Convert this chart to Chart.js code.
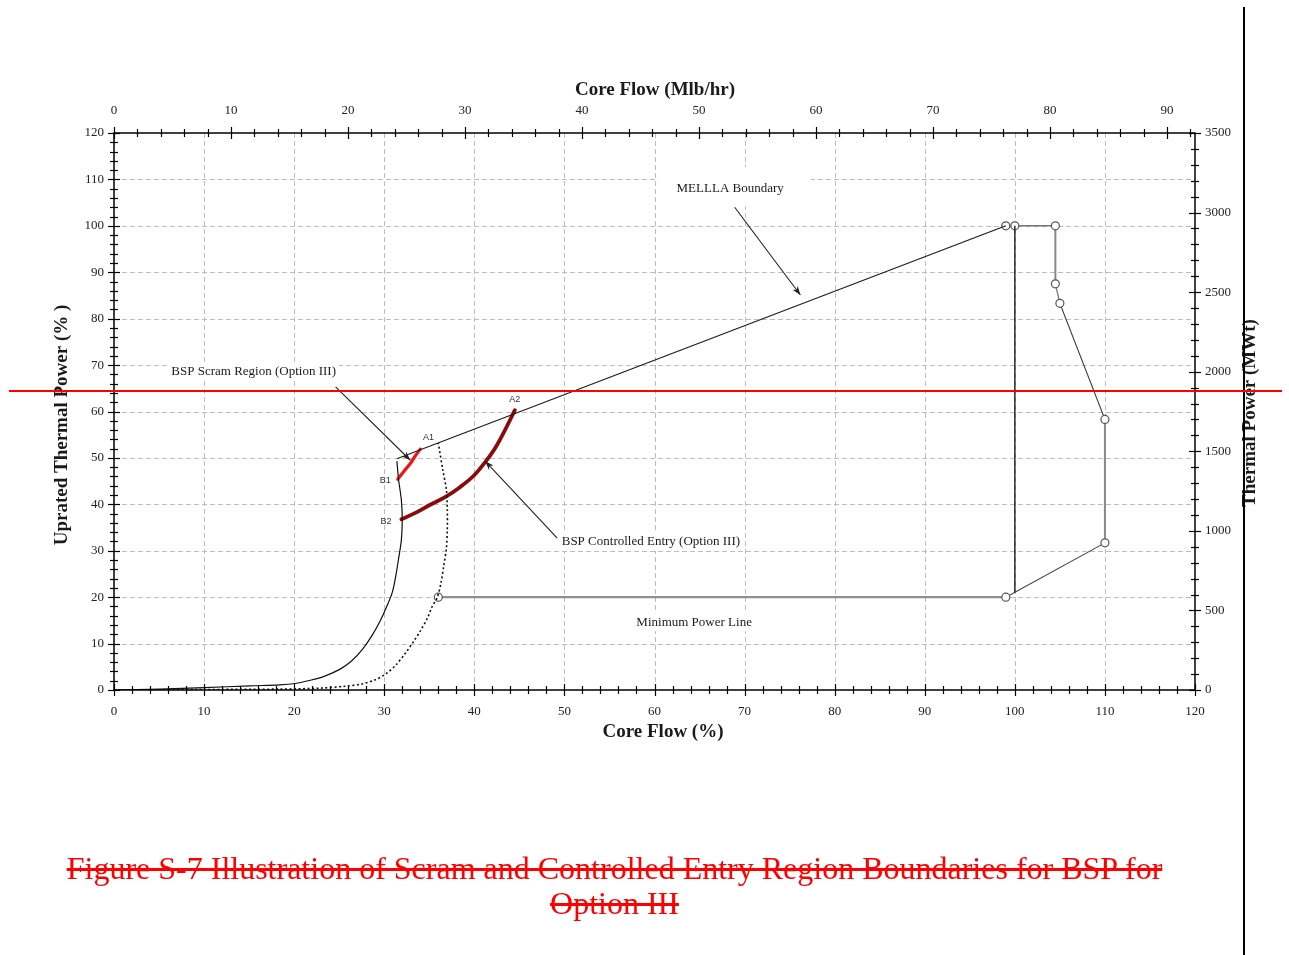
<!DOCTYPE html>
<html>
<head>
<meta charset="utf-8">
<title>BSP Option III Scram and Controlled Entry Regions</title>
<script src="https://cdn.jsdelivr.net/npm/chart.js@4/dist/chart.umd.min.js"></script>
<style>
  html, body { margin: 0; padding: 0; background: #fff; }
  body { width: 1289px; height: 955px; position: relative; overflow: hidden; }
  #plot { position: absolute; left: 0; top: 0; }
  .vrule { position: absolute; left: 1243px; top: 7px; width: 2px; height: 948px; background: #000; }
  .hrule { position: absolute; left: 9px; top: 390px; width: 1273px; height: 2px; background: #f00; }
  .caption {
    position: absolute; left: 0; width: 1229px; height: 36px; line-height: 36px;
    text-align: center; font-family: "Liberation Serif", "Times New Roman", serif;
    font-size: 32px; color: #f00; text-decoration: line-through; white-space: nowrap;
  }
</style>
</head>
<body>
<canvas id="plot" width="1289" height="955"></canvas>
<div class="vrule"></div>
<div class="hrule"></div>
<div class="caption" style="top:850px">Figure S-7 Illustration of Scram and Controlled Entry Region Boundaries for BSP for</div>
<div class="caption" style="top:885px">Option III</div>
<script>
// ---- Curves: core flow (% rated) against uprated thermal power (%) ----
const natCircFlow  = [0, 5.1, 10.0, 15.1, 18.4, 20.1, 21.8, 23.4, 25.1, 26.4, 27.6, 28.6, 29.5, 30.3, 30.9, 31.3, 31.6, 31.9, 32.0, 31.9, 31.6, 31.4];
const natCircPower = [0, 0.2, 0.5, 0.9, 1.1, 1.4, 2.1, 3.0, 4.5, 6.3, 8.8, 11.6, 14.7, 18.1, 21.1, 24.8, 28.4, 32.3, 36.6, 40.9, 45.2, 49.3];

const minPumpFlow  = [0, 9.6, 18.4, 22.9, 25.6, 27.5, 29.0, 30.2, 31.3, 32.3, 33.2, 34.0, 34.8, 35.3, 35.9, 36.3, 36.6, 36.9, 37.0, 37.0, 36.9, 36.5, 36.0];
const minPumpPower = [0, 0.1, 0.2, 0.4, 0.8, 1.3, 2.2, 3.5, 5.4, 7.8, 10.3, 12.7, 15.5, 17.9, 20.0, 23.1, 26.7, 30.6, 34.5, 38.8, 43.1, 47.4, 53.2];

const melllaFlow  = [31.4, 99];
const melllaPower = [49.8, 100];

const boundaryFlow  = [99, 100, 104.5, 104.5, 105, 110, 110, 99, 36];
const boundaryPower = [100, 100, 100, 87.5, 83.3, 58.3, 31.7, 20, 20];

const ratedFlowLineFlow  = [100, 100];
const ratedFlowLinePower = [100, 21];

const scramFlow  = [31.5, 32.3, 32.9, 33.4, 34.0];
const scramPower = [45.4, 47.4, 48.8, 50.3, 51.9];

const entryFlow  = [31.9, 33.4, 35.1, 36.8, 38.4, 39.9, 41.2, 42.3, 43.4, 44.5];
const entryPower = [36.8, 38.1, 39.9, 41.6, 43.7, 46.1, 49.1, 52.1, 56.0, 60.3];

// ---- Axis ticks ----
const coreFlowPctTicks = [0, 10, 20, 30, 40, 50, 60, 70, 80, 90, 100, 110, 120];
const powerPctTicks    = [0, 10, 20, 30, 40, 50, 60, 70, 80, 90, 100, 110, 120];
const coreFlowMlbTicks = [0, 10, 20, 30, 40, 50, 60, 70, 80, 90];
const thermalMWtTicks  = [0, 500, 1000, 1500, 2000, 2500, 3000, 3500];
const coreFlowMlbMax = 92.4;   // 120 % of 77 Mlb/hr rated
const thermalMWtMax = 3500;

// ---- Text annotations (placed in flow % / power % units) ----
const notes = [
  { text: 'MELLLA Boundary', x: 68.4, y: 108.1, align: 'center', box: { l: 18, r: 27, t: 14, b: 11 } },
  { text: 'BSP Scram Region (Option III)', x: 15.5, y: 68.7, align: 'center', box: { l: 3, r: 3, t: 2, b: 2 } },
  { text: 'BSP Controlled Entry (Option III)', x: 49.7, y: 31.9, align: 'left', box: { l: 2, r: 3, t: 2, b: 2 } },
  { text: 'Minimum Power Line', x: 64.4, y: 14.6, align: 'center', box: { l: 3, r: 3, t: 2, b: 2 } }
];
const arrows = [
  { from: [68.9, 104.0], to: [76.2, 85.1] },
  { from: [24.6, 65.3], to: [32.9, 49.5] },
  { from: [49.2, 32.7], to: [41.2, 49.3] }
];
const pointTags = [
  { text: 'A1', x: 34.9, y: 54.3 },
  { text: 'A2', x: 44.5, y: 62.5 },
  { text: 'B1', x: 30.1, y: 45.2 },
  { text: 'B2', x: 30.2, y: 36.4 }
];

const pairs = (xs, ys) => xs.map((x, i) => ({ x: x, y: ys[i] }));

const SERIF = '"Liberation Serif", "Times New Roman", serif';
const SANS = '"Liberation Sans", Arial, sans-serif';

const boundarySegColor = ['#666', '#777', '#888', '#777', '#333', '#8a8a8a', '#444', '#8f8f8f'];
const boundarySegWidth = [1.3, 1.5, 2, 1.3, 1.1, 2, 1.1, 2.2];

// Grid, axis lines, tick marks, annotations and titles
const framePlugin = {
  id: 'frame',
  beforeDatasetsDraw(chart) {
    const { ctx, chartArea: a, scales } = chart;
    const x = scales.x, y = scales.y;
    ctx.save();
    ctx.strokeStyle = '#bdbdbd';
    ctx.lineWidth = 1;
    ctx.setLineDash([5, 3]);
    coreFlowPctTicks.forEach(v => {
      if (v <= 0 || v >= 120) return;
      const px = Math.round(x.getPixelForValue(v)) + 0.5;
      ctx.beginPath(); ctx.moveTo(px, a.top); ctx.lineTo(px, a.bottom); ctx.stroke();
    });
    powerPctTicks.forEach(v => {
      if (v <= 0 || v >= 120) return;
      const py = Math.round(y.getPixelForValue(v)) + 0.5;
      ctx.beginPath(); ctx.moveTo(a.left, py); ctx.lineTo(a.right, py); ctx.stroke();
    });
    ctx.setLineDash([]);

    // annotation text on white boxes
    ctx.font = '13px ' + SERIF;
    ctx.textBaseline = 'middle';
    notes.forEach(n => {
      const w = ctx.measureText(n.text).width;
      const px = x.getPixelForValue(n.x), py = y.getPixelForValue(n.y);
      const left = n.align === 'center' ? px - w / 2 : px;
      ctx.fillStyle = '#fff';
      ctx.fillRect(left - n.box.l, py - 7 - n.box.t, w + n.box.l + n.box.r, 14 + n.box.t + n.box.b);
      ctx.fillStyle = '#1a1a1a';
      ctx.textAlign = 'left';
      ctx.fillText(n.text, left, py);
    });
    ctx.restore();
  },
  afterDatasetsDraw(chart) {
    const { ctx, chartArea: a, scales } = chart;
    const x = scales.x, y = scales.y, x2 = scales.x2, y2 = scales.y2;
    ctx.save();

    // arrows
    ctx.strokeStyle = '#222';
    ctx.fillStyle = '#222';
    ctx.lineWidth = 1.1;
    arrows.forEach(ar => {
      const x0 = x.getPixelForValue(ar.from[0]), y0 = y.getPixelForValue(ar.from[1]);
      const x1 = x.getPixelForValue(ar.to[0]), y1 = y.getPixelForValue(ar.to[1]);
      const ang = Math.atan2(y1 - y0, x1 - x0);
      ctx.beginPath(); ctx.moveTo(x0, y0); ctx.lineTo(x1, y1); ctx.stroke();
      const L = 9, W = 3.2;
      ctx.beginPath();
      ctx.moveTo(x1, y1);
      ctx.lineTo(x1 - L * Math.cos(ang) + W * Math.sin(ang), y1 - L * Math.sin(ang) - W * Math.cos(ang));
      ctx.lineTo(x1 - L * 0.7 * Math.cos(ang), y1 - L * 0.7 * Math.sin(ang));
      ctx.lineTo(x1 - L * Math.cos(ang) - W * Math.sin(ang), y1 - L * Math.sin(ang) + W * Math.cos(ang));
      ctx.closePath();
      ctx.fill();
    });

    // point tags
    ctx.font = '9px ' + SANS;
    ctx.fillStyle = '#333';
    ctx.textAlign = 'center';
    ctx.textBaseline = 'middle';
    pointTags.forEach(t => ctx.fillText(t.text, x.getPixelForValue(t.x), y.getPixelForValue(t.y)));

    // axis frame
    ctx.strokeStyle = '#000';
    ctx.lineWidth = 1.5;
    ctx.strokeRect(a.left, a.top, a.right - a.left, a.bottom - a.top);

    // tick marks crossing the frame
    ctx.lineWidth = 1.2;
    const hTicks = (scale, yLine, step, max, majorEvery) => {
      for (let i = 0; i * step <= max + 1e-9; i++) {
        const px = Math.round(scale.getPixelForValue(i * step)) + 0.5;
        const h = (i % majorEvery === 0) ? 6 : 4;
        ctx.beginPath(); ctx.moveTo(px, yLine - h); ctx.lineTo(px, yLine + h); ctx.stroke();
      }
    };
    const vTicks = (scale, xLine, step, max, majorEvery) => {
      for (let i = 0; i * step <= max + 1e-9; i++) {
        const py = Math.round(scale.getPixelForValue(i * step)) + 0.5;
        const h = (i % majorEvery === 0) ? 6 : 4;
        ctx.beginPath(); ctx.moveTo(xLine - h, py); ctx.lineTo(xLine + h, py); ctx.stroke();
      }
    };
    hTicks(x, a.bottom, 2, 120, 5);
    hTicks(x2, a.top, 2, coreFlowMlbMax, 5);
    vTicks(y, a.left, 2, 120, 5);
    vTicks(y2, a.right, 100, thermalMWtMax, 5);

    ctx.restore();
  },
  afterDraw(chart) {
    const { ctx, chartArea: a } = chart;
    ctx.save();
    ctx.fillStyle = '#1a1a1a';
    ctx.font = 'bold 19px ' + SERIF;
    ctx.textAlign = 'center';
    ctx.textBaseline = 'middle';
    ctx.fillText('Core Flow (Mlb/hr)', 655, a.top - 43);
    ctx.fillText('Core Flow (%)', 663, a.bottom + 42);
    ctx.save();
    ctx.translate(a.left - 52, 425);
    ctx.rotate(-Math.PI / 2);
    ctx.fillText('Uprated Thermal Power (% )', 0, 0);
    ctx.restore();
    ctx.save();
    ctx.translate(a.right + 55, 413);
    ctx.rotate(-Math.PI / 2);
    ctx.fillText('Thermal Power (MWt)', 0, 0);
    ctx.restore();
    ctx.restore();
  }
};

const tickFont = { family: SERIF, size: 13 };
const fixedTicks = arr => function (scale) { scale.ticks = arr.map(v => ({ value: v })); };
const plainLabel = v => String(v);

new Chart(document.getElementById('plot'), {
  type: 'scatter',
  data: {
    datasets: [
      {
        label: 'Natural circulation',
        data: pairs(natCircFlow, natCircPower),
        showLine: true, borderColor: '#111', borderWidth: 1.2, pointRadius: 0, tension: 0.3
      },
      {
        label: 'Minimum pump speed',
        data: pairs(minPumpFlow, minPumpPower),
        showLine: true, borderColor: '#111', borderWidth: 1.6, borderDash: [2, 2.5], pointRadius: 0, tension: 0.3
      },
      {
        label: 'MELLLA Boundary',
        data: pairs(melllaFlow, melllaPower),
        showLine: true, borderColor: '#1a1a1a', borderWidth: 1.1, pointRadius: 0
      },
      {
        label: '100% core flow',
        data: pairs(ratedFlowLineFlow, ratedFlowLinePower),
        showLine: true, borderColor: '#2a2a2a', borderWidth: 1.5, pointRadius: 0
      },
      {
        label: 'Boundary',
        data: pairs(boundaryFlow, boundaryPower),
        showLine: true, borderColor: '#777', borderWidth: 1.5,
        segment: {
          borderColor: c => boundarySegColor[c.p0DataIndex],
          borderWidth: c => boundarySegWidth[c.p0DataIndex]
        },
        pointRadius: 4, pointBackgroundColor: '#fff', pointBorderColor: '#555', pointBorderWidth: 1.2
      },
      {
        label: 'BSP Scram Region',
        data: pairs(scramFlow, scramPower),
        showLine: true, borderColor: '#f01414', borderWidth: 3.2, pointRadius: 0, tension: 0.3, borderCapStyle: 'round'
      },
      {
        label: 'BSP Controlled Entry',
        data: pairs(entryFlow, entryPower),
        showLine: true, borderColor: '#8c0a0a', borderWidth: 3.8, pointRadius: 0, tension: 0.35, borderCapStyle: 'round'
      }
    ]
  },
  options: {
    responsive: false,
    animation: false,
    layout: { padding: 0 },
    plugins: { legend: { display: false }, tooltip: { enabled: false } },
    scales: {
      x: {
        type: 'linear', position: 'bottom', min: 0, max: 120,
        afterBuildTicks: fixedTicks(coreFlowPctTicks),
        afterFit(s) { s.height = 265; },
        grid: { display: false, drawTicks: false }, border: { display: false },
        ticks: { autoSkip: false, maxRotation: 0, padding: 14, font: tickFont, color: '#222', callback: plainLabel }
      },
      x2: {
        type: 'linear', position: 'top', min: 0, max: coreFlowMlbMax,
        afterBuildTicks: fixedTicks(coreFlowMlbTicks),
        afterFit(s) { s.height = 133; },
        grid: { display: false, drawTicks: false }, border: { display: false },
        ticks: { autoSkip: false, maxRotation: 0, padding: 15, font: tickFont, color: '#222', callback: plainLabel }
      },
      y: {
        type: 'linear', position: 'left', min: 0, max: 120,
        afterBuildTicks: fixedTicks(powerPctTicks),
        afterFit(s) { s.width = 114; },
        grid: { display: false, drawTicks: false }, border: { display: false },
        ticks: { autoSkip: false, padding: 10, font: tickFont, color: '#222', callback: plainLabel }
      },
      y2: {
        type: 'linear', position: 'right', min: 0, max: thermalMWtMax,
        afterBuildTicks: fixedTicks(thermalMWtTicks),
        afterFit(s) { s.width = 94; },
        grid: { display: false, drawTicks: false }, border: { display: false },
        ticks: { autoSkip: false, padding: 10, font: tickFont, color: '#222', callback: plainLabel }
      }
    }
  },
  plugins: [framePlugin]
});
</script>
</body>
</html>
